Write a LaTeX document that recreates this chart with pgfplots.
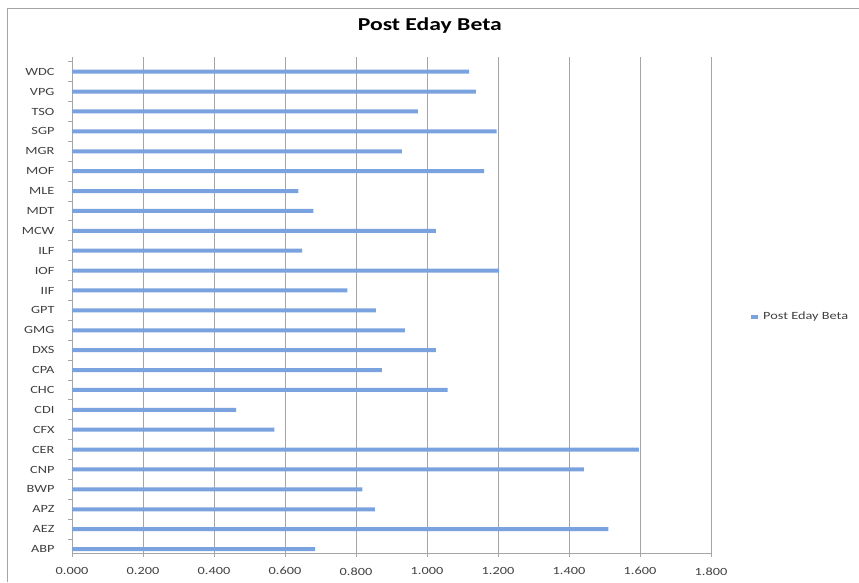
\documentclass[border=0pt]{standalone}
\usepackage{pgfplots}
\pgfplotsset{compat=1.18}
\usepackage{fontspec}
\setmainfont[FakeStretch=1.3]{Carlito}
\definecolor{barblue}{RGB}{122,162,222}
\definecolor{gridgray}{RGB}{165,165,165}
\definecolor{labgray}{RGB}{64,64,64}
\begin{document}
\begin{tikzpicture}
\useasboundingbox (0,0) rectangle (859pt,582pt);
\draw[gridgray, line width=0.8pt] (7pt,0pt) -- (7pt,574pt) -- (859pt,574pt);
\begin{axis}[
  at={(72pt,29pt)}, anchor=south west,
  scale only axis, width=639pt, height=496pt,
  xbar, bar width=4pt,
  xmin=0, xmax=1.8, ymin=-0.2, ymax=24.74,
  axis x line*=bottom, axis y line*=left,
  axis line style={gridgray, line width=0.8pt},
  xtick={0,0.2,0.4,0.6,0.8,1.0,1.2,1.4,1.6,1.8},
  minor xtick={0,0.2,0.4,0.6,0.8,1.0,1.2,1.4,1.6,1.8},
  ytick={0,1,...,24},
  minor ytick={0.5,1.5,...,24.5},
  major tick length=0pt, minor tick length=4pt,
  tick align=outside,
  minor tick style={gridgray, line width=0.8pt},
  xmajorgrids, major grid style={gridgray, line width=0.8pt},
  /pgf/number format/assume math mode=true,
  xticklabel style={/pgf/number format/fixed, /pgf/number format/fixed zerofill, /pgf/number format/precision=3, font=\fontsize{11}{13}\selectfont, text=labgray, yshift=-11pt},
  yticklabels={ABP,AEZ,APZ,BWP,CNP,CER,CFX,CDI,CHC,CPA,DXS,GMG,GPT,IIF,IOF,ILF,MCW,MDT,MLE,MOF,MGR,SGP,TSO,VPG,WDC},
  yticklabel style={font=\fontsize{11}{13}\selectfont, text=labgray, anchor=east, xshift=-14pt},
  title={\textbf{Post Eday Beta}},
  title style={at={(0.560,1.0504)}, anchor=center, font=\fontsize{18.2}{20}\selectfont},
  legend style={at={(1.0626,0.476)}, anchor=west, draw=none, fill=none, inner sep=0pt, font=\fontsize{11}{13}\selectfont, text=labgray},
  legend image code/.code={\fill[barblue] (0pt,-2pt) rectangle (6.5pt,2pt); \path (0pt,0pt) -- (10pt,0pt);},
  clip=false,
]
\addplot[fill=barblue, draw=none] coordinates {
(0.685,0) (1.511,1) (0.853,2) (0.818,3) (1.442,4) (1.597,5) (0.570,6) (0.462,7) (1.058,8) (0.873,9)
(1.025,10) (0.938,11) (0.856,12) (0.776,13) (1.203,14) (0.648,15) (1.025,16) (0.680,17) (0.638,18) (1.161,19)
(0.929,20) (1.196,21) (0.974,22) (1.138,23) (1.119,24)
};
\addlegendentry{Post Eday Beta}
\end{axis}
\end{tikzpicture}
\end{document}
